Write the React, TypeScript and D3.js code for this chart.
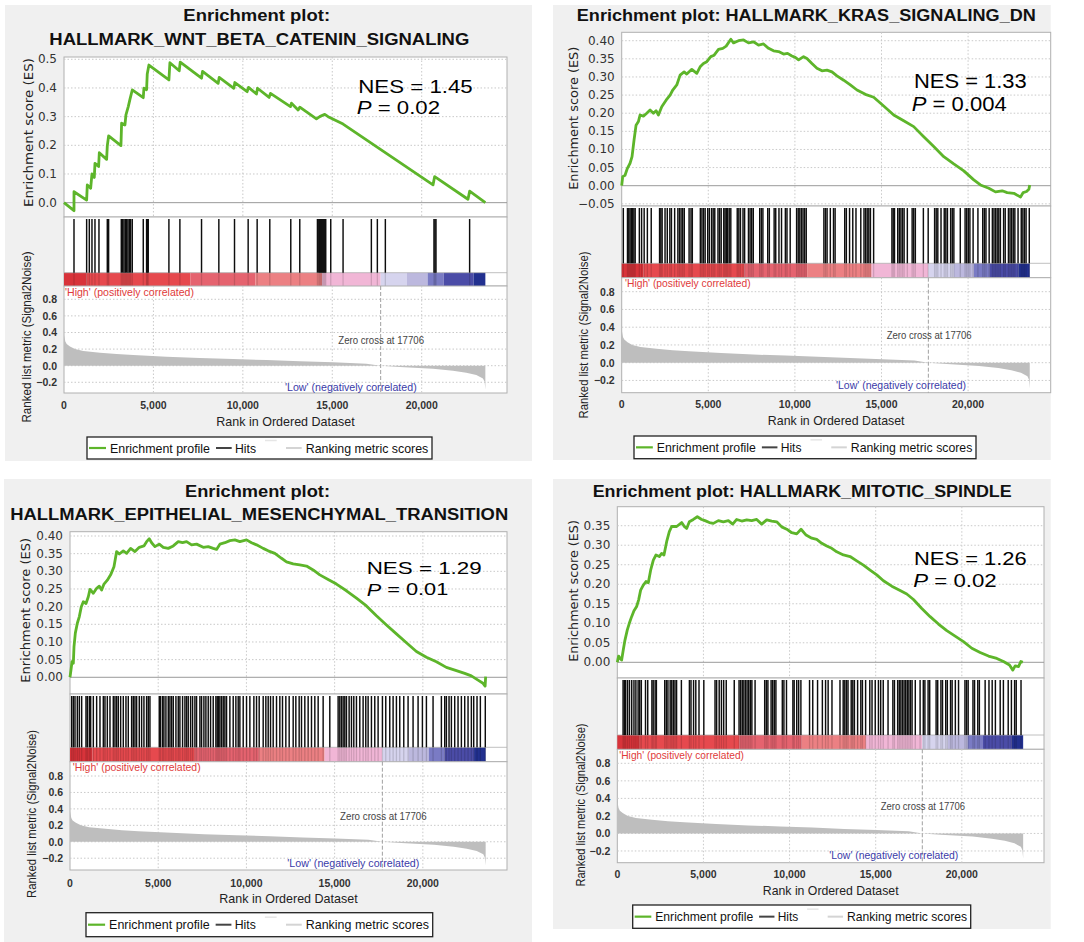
import React from 'react';
import * as d3 from 'd3';

type Pt = [number, number];

// ---------------- DATA ----------------
const RANK_MAX = 24770;
const N_GENES = 23560;
const ZERO_CROSS = 17706;
const xTicks = [0, 5000, 10000, 15000, 20000];
const rankTicks = [-0.2, 0, 0.2, 0.4, 0.6, 0.8];

const titleLines: string[][] = [
  ['Enrichment plot:', 'HALLMARK_WNT_BETA_CATENIN_SIGNALING'],
  ['Enrichment plot: HALLMARK_KRAS_SIGNALING_DN'],
  ['Enrichment plot:', 'HALLMARK_EPITHELIAL_MESENCHYMAL_TRANSITION'],
  ['Enrichment plot: HALLMARK_MITOTIC_SPINDLE'],
];
const nesValues = ['1.45', '1.33', '1.29', '1.26'];
const pValues = ['0.02', '0.004', '0.01', '0.02'];

const esTicksWnt = [0, 0.1, 0.2, 0.3, 0.4, 0.5];
const esTicksKras = [-0.05, 0, 0.05, 0.1, 0.15, 0.2, 0.25, 0.3, 0.35, 0.4];
const esTicksEmt = [0, 0.05, 0.1, 0.15, 0.2, 0.25, 0.3, 0.35, 0.4];
const esTicksMitotic = [0, 0.05, 0.1, 0.15, 0.2, 0.25, 0.3, 0.35];

const wntProfile: Pt[] = [
  [0, 0], [559, -0.028], [559, 0.038], [1266, 0.009], [1303, 0.062], [1490, 0.05], [1564, 0.1],
  [1694, 0.088], [1732, 0.137], [1937, 0.126], [1974, 0.174], [2383, 0.151], [2421, 0.198],
  [2495, 0.233], [3184, 0.199], [3221, 0.277], [3408, 0.271], [3463, 0.306], [3594, 0.335],
  [3687, 0.36], [3817, 0.393], [4432, 0.366], [4469, 0.399], [4618, 0.394], [4655, 0.449],
  [4748, 0.48], [5866, 0.428], [5921, 0.488], [6443, 0.46], [6499, 0.49], [7690, 0.434],
  [7746, 0.458], [8621, 0.416], [8677, 0.437], [9497, 0.399], [9553, 0.419], [10242, 0.387],
  [10316, 0.402], [10763, 0.379], [10819, 0.399], [11470, 0.367], [11545, 0.381], [12662, 0.335],
  [12718, 0.347], [13090, 0.323], [13184, 0.333], [14115, 0.292], [14301, 0.3], [14581, 0.308],
  [14767, 0.3], [15605, 0.274], [20633, 0.062], [20726, 0.091], [22588, 0.012], [22681, 0.04],
  [23560, 0.0],
];

const krasProfile: Pt[] = [
  [0, 0], [58, 0.025], [193, 0.029], [328, 0.048], [482, 0.062], [597, 0.08], [713, 0.126],
  [829, 0.167], [964, 0.177], [1060, 0.195], [1253, 0.192], [1445, 0.2], [1638, 0.209],
  [1831, 0.2], [1985, 0.207], [2120, 0.195], [2312, 0.218], [2563, 0.236], [2794, 0.25],
  [2948, 0.264], [3180, 0.278], [3372, 0.305], [3604, 0.314], [3758, 0.308], [4047, 0.321],
  [4336, 0.31], [4529, 0.328], [4721, 0.337], [4914, 0.342], [5145, 0.356], [5338, 0.36],
  [5588, 0.376], [5839, 0.379], [6032, 0.385], [6301, 0.404], [6455, 0.394], [6745, 0.4],
  [7034, 0.402], [7323, 0.394], [7612, 0.397], [7901, 0.388], [8190, 0.391], [8479, 0.379],
  [8768, 0.372], [9057, 0.37], [9346, 0.363], [9577, 0.365], [9827, 0.358], [10020, 0.354],
  [10213, 0.347], [10502, 0.356], [10695, 0.351], [10984, 0.337], [11273, 0.324], [11562, 0.317],
  [11851, 0.319], [12140, 0.314], [12429, 0.303], [12815, 0.291], [13200, 0.278], [13585, 0.264],
  [14067, 0.252], [14549, 0.244], [15127, 0.22], [15705, 0.195], [16283, 0.179], [16861, 0.163],
  [17439, 0.135], [18017, 0.108], [18595, 0.08], [19173, 0.06], [19752, 0.041], [20330, 0.016],
  [20715, 0.002], [21197, -0.007], [21582, -0.017], [21968, -0.014], [22257, -0.019],
  [22642, -0.021], [23028, -0.031], [23182, -0.019], [23375, -0.016], [23509, -0.01], [23560, 0.002],
];

const emtProfile: Pt[] = [
  [0, 0], [57, 0.021], [113, 0.044], [189, 0.04], [227, 0.087], [302, 0.125], [415, 0.153],
  [529, 0.172], [642, 0.2], [755, 0.214], [906, 0.209], [1038, 0.228], [1133, 0.249],
  [1322, 0.238], [1510, 0.252], [1661, 0.258], [1794, 0.247], [1926, 0.264], [2115, 0.275],
  [2303, 0.29], [2492, 0.313], [2643, 0.356], [2794, 0.349], [3021, 0.358], [3210, 0.351],
  [3436, 0.365], [3682, 0.356], [3927, 0.368], [4191, 0.372], [4342, 0.384], [4493, 0.392],
  [4626, 0.381], [4814, 0.37], [5060, 0.377], [5286, 0.368], [5570, 0.365], [5853, 0.372],
  [6136, 0.384], [6381, 0.381], [6608, 0.384], [6891, 0.375], [7174, 0.377], [7552, 0.368],
  [7835, 0.37], [8118, 0.365], [8307, 0.362], [8496, 0.377], [8779, 0.381], [9062, 0.387],
  [9345, 0.389], [9629, 0.384], [10006, 0.389], [10290, 0.381], [10573, 0.375], [10950, 0.365],
  [11234, 0.358], [11611, 0.351], [11989, 0.337], [12272, 0.327], [12650, 0.321], [13027, 0.318],
  [13405, 0.315], [13782, 0.304], [14160, 0.29], [14632, 0.277], [15104, 0.264], [15670, 0.245],
  [16237, 0.224], [16803, 0.202], [17370, 0.174], [17936, 0.148], [18502, 0.123], [19069, 0.098],
  [19635, 0.073], [20202, 0.057], [20768, 0.044], [21334, 0.028], [21901, 0.019], [22373, 0.011],
  [22750, 0.004], [23128, -0.008], [23411, -0.017], [23530, -0.025], [23560, 0.002],
];

const mitoticProfile: Pt[] = [
  [0, 0], [77, 0.016], [155, 0.01], [252, 0.006], [348, 0.032], [445, 0.057], [581, 0.083],
  [697, 0.1], [832, 0.117], [968, 0.132], [1123, 0.143], [1239, 0.16], [1355, 0.185],
  [1510, 0.198], [1665, 0.207], [1800, 0.204], [1936, 0.236], [2091, 0.262], [2246, 0.275],
  [2439, 0.271], [2575, 0.279], [2710, 0.275], [2865, 0.309], [3020, 0.335], [3156, 0.348],
  [3446, 0.348], [3737, 0.358], [3872, 0.349], [4027, 0.343], [4182, 0.36], [4414, 0.366],
  [4646, 0.373], [4898, 0.366], [5092, 0.363], [5343, 0.358], [5576, 0.356], [5866, 0.363],
  [6156, 0.36], [6447, 0.363], [6699, 0.354], [6931, 0.366], [7221, 0.362], [7512, 0.365],
  [7802, 0.363], [8092, 0.366], [8383, 0.354], [8673, 0.365], [8964, 0.362], [9254, 0.36],
  [9544, 0.347], [9835, 0.341], [10125, 0.332], [10416, 0.329], [10667, 0.341], [10958, 0.326],
  [11287, 0.318], [11577, 0.315], [11868, 0.305], [12158, 0.298], [12448, 0.292], [12739, 0.283],
  [13126, 0.275], [13513, 0.271], [13900, 0.26], [14288, 0.249], [14675, 0.236], [15062, 0.224],
  [15449, 0.209], [15933, 0.195], [16417, 0.184], [16804, 0.175], [17192, 0.161], [17676, 0.138],
  [18160, 0.117], [18643, 0.098], [19127, 0.081], [19611, 0.067], [20095, 0.053], [20579, 0.036],
  [21063, 0.025], [21547, 0.016], [22031, 0.01], [22418, 0.002], [22767, -0.007], [22960, -0.02],
  [23096, -0.009], [23290, -0.011], [23425, 0.002], [23541, 0.0],
];

const wntHits = [
  559, 1266, 1415, 1564, 1732, 1955, 2421, 2495, 3203, 3277, 3352, 3426, 3501, 3575, 3650, 3724,
  3817, 4432, 4618, 4655, 4711, 5866, 6480, 7690, 8658, 9534, 10297, 10800, 11507, 12680, 13183,
  14170, 14245, 14300, 14356, 14412, 14468, 14524, 14580, 14635, 14915, 15604, 17186, 17521,
  17968, 20687, 20743, 20799, 22680,
];

const krasHits = [
  93, 334, 408, 482, 556, 630, 704, 778, 1019, 1149, 1297, 1482, 1705, 2187, 2261, 2335, 2502,
  2631, 2780, 2872, 3057, 3243, 3335, 3428, 3521, 3613, 3891, 4002, 4077, 4540, 4633, 4725, 4818,
  4966, 5059, 5188, 5281, 5374, 5559, 5652, 5744, 5893, 5967, 6041, 6115, 6208, 6300, 6671, 6763,
  6856, 7004, 7097, 7319, 7412, 7505, 7597, 7968, 8061, 8153, 8431, 8524, 8802, 8894, 9080, 9228,
  9450, 9543, 9728, 10099, 10192, 10284, 10377, 10469, 10562, 10655, 11674, 11767, 11859, 12045,
  12230, 12322, 12878, 12971, 13156, 13342, 13527, 13805, 13990, 14083, 14175, 14268, 14361,
  14546, 15602, 15676, 15751, 15936, 16028, 16121, 16214, 16306, 16492, 16770, 16862, 16955,
  17418, 17696, 18067, 18159, 18252, 18437, 18623, 18715, 18808, 18993, 19086, 19179, 19549,
  19827, 19920, 20012, 20105, 20290, 20568, 20846, 20939, 21032, 21217, 21402, 21495, 21588,
  21680, 21773, 21865, 22051, 22144, 22329, 22422, 22514, 22607, 22700, 22885, 23070, 23163,
  23256, 23348, 23533,
];

const emtHits = [
  94, 189, 283, 415, 529, 661, 906, 982, 1095, 1171, 1322, 1510, 1699, 1888, 1982, 2115, 2266,
  2454, 2549, 2643, 2738, 2870, 3021, 3172, 3304, 3493, 3587, 3682, 3776, 3927, 4059, 4191, 4342,
  4437, 4531, 5060, 5135, 5249, 5324, 5437, 5570, 5664, 5758, 5853, 6004, 6136, 6230, 6381, 6514,
  6608, 6702, 6835, 6948, 7080, 7174, 7363, 7458, 7590, 7703, 7835, 7967, 8118, 8269, 8345, 8420,
  8496, 8590, 8685, 8779, 8874, 9062, 9251, 9402, 9534, 9629, 9818, 10006, 10195, 10422, 10573,
  10724, 10950, 11101, 11234, 11366, 11517, 11706, 11894, 12045, 12234, 12423, 12650, 12801,
  12989, 13122, 13310, 13499, 13688, 13877, 14066, 14349, 14726, 15198, 15293, 15387, 15482,
  15576, 15670, 15821, 15954, 16086, 16237, 16426, 16614, 16765, 16898, 17086, 17275, 17464,
  17709, 17898, 18125, 18314, 18502, 18691, 18918, 19163, 19446, 19730, 19975, 20202, 20579,
  21051, 21240, 21334, 21485, 21618, 21806, 21995, 22184, 22373, 22562, 22750, 22883, 23071,
  23260, 23540,
];

const mitoticHits = [
  335, 409, 484, 595, 707, 837, 967, 1079, 1209, 1302, 1395, 1637, 1767, 2009, 2083, 2195, 2269,
  2753, 2846, 2939, 3069, 3162, 3255, 3348, 3441, 3720, 4185, 4278, 4427, 4557, 4743, 5022, 5673,
  5766, 5915, 6045, 6175, 6324, 6789, 7068, 7161, 7254, 7347, 7440, 7533, 7626, 7719, 7812, 7998,
  8556, 8649, 8742, 8928, 9021, 9114, 9207, 9579, 9672, 9821, 10193, 10267, 10416, 10528, 10658,
  11160, 11346, 11625, 11904, 12090, 12239, 12462, 12927, 13113, 13206, 13299, 13392, 13578,
  13671, 13764, 13950, 14136, 14229, 14415, 14657, 14787, 14973, 15159, 15289, 15438, 15717,
  15996, 16089, 16275, 16368, 16461, 16554, 16647, 16740, 16833, 16926, 17019, 17112, 17298,
  17577, 17763, 17856, 18042, 18135, 18507, 18600, 18786, 18879, 19065, 19158, 19344, 19437,
  19623, 19809, 20181, 20274, 20367, 20646, 20739, 20925, 21018, 21353, 21576, 21762, 21948,
  22227, 22413, 22692, 22878, 23064, 23157, 23436,
];

const rankedMetric: Pt[] = [
  [0, 0.37], [74, 0.29], [149, 0.26], [335, 0.23], [614, 0.2], [1080, 0.177], [2011, 0.157],
  [2942, 0.14], [3873, 0.129], [5735, 0.109], [7597, 0.092], [9459, 0.08], [11321, 0.068],
  [13183, 0.052], [15045, 0.04], [16907, 0.024], [17706, 0.0], [18770, -0.016], [20633, -0.036],
  [21750, -0.06], [22495, -0.084], [23054, -0.113], [23426, -0.153], [23519, -0.193], [23560, -0.29],
];

const colorBandStarts = [0, 1266, 7076, 10707, 14431, 17706, 19179, 20333, 21227, 22903];
const colorBandColors = ['#d8333a', '#e6494e', '#e5636f', '#ec8083', '#f1b6d6', '#d6d4ee', '#bcb8de', '#7a7bc4', '#4b4ca7', '#22308f'];

const legendLabels = ['Enrichment profile', 'Hits', 'Ranking metric scores'];

// ---------------- LAYOUT ----------------
interface TextPos { x: number; y: number; w: number; }
interface Layout {
  bg: [number, number, number, number];
  x0: number; x1: number;
  esTop: number; esBottom: number; cbTop: number; cbBottom: number; rankBottom: number;
  esDomain: [number, number]; rankDomain: [number, number];
  esTicks: number[]; esFmt: string;
  titles: TextPos[]; titleFs: number;
  nes: TextPos; p: TextPos; nesFs: number;
  esLabel: TextPos; rankLabel: TextPos;
  tickY: number; axisTitle: TextPos;
  high: TextPos; low: TextPos; zero: TextPos;
  legend: [number, number, number, number];
}

const layouts: Layout[] = [
  {
    bg: [5, 5, 532, 461], x0: 64, x1: 507,
    esTop: 57, esBottom: 217, cbTop: 272.7, cbBottom: 286, rankBottom: 393,
    esDomain: [-0.05, 0.508], rankDomain: [-0.329, 0.96],
    esTicks: esTicksWnt, esFmt: '.1f',
    titles: [{ x: 256.7, y: 15.7, w: 146.7 }, { x: 259.3, y: 39.3, w: 420 }], titleFs: 16,
    nes: { x: 358.3, y: 86.5, w: 114.4 }, p: { x: 356.7, y: 107.5, w: 83.3 }, nesFs: 17.5,
    esLabel: { x: 28.3, y: 132.5, w: 149 }, rankLabel: { x: 26, y: 337, w: 171 },
    tickY: 405, axisTitle: { x: 285.5, y: 421.7, w: 138.3 },
    high: { x: 65, y: 291.7, w: 129 }, low: { x: 285, y: 386.7, w: 131.7 }, zero: { x: 338.3, y: 340, w: 85.7 },
    legend: [87, 437, 432, 459],
  },
  {
    bg: [553, 5, 1050.7, 460], x0: 621.7, x1: 1050.7,
    esTop: 32.3, esBottom: 206, cbTop: 263.3, cbBottom: 277.7, rankBottom: 392.7,
    esDomain: [-0.056, 0.4232], rankDomain: [-0.338, 0.9577],
    esTicks: esTicksKras, esFmt: '.2f',
    titles: [{ x: 806.3, y: 15, w: 459 }], titleFs: 16,
    nes: { x: 914, y: 80.5, w: 112.7 }, p: { x: 911.7, y: 104, w: 95 }, nesFs: 19.5,
    esLabel: { x: 573.3, y: 118.3, w: 143 }, rankLabel: { x: 583.3, y: 335, w: 167 },
    tickY: 404, axisTitle: { x: 836.2, y: 420, w: 136.7 },
    high: { x: 625, y: 283.3, w: 125.7 }, low: { x: 836, y: 385, w: 130 }, zero: { x: 886.7, y: 335, w: 85 },
    legend: [634, 436, 976, 458.7],
  },
  {
    bg: [4, 479, 532, 942], x0: 70, x1: 507,
    esTop: 531.7, esBottom: 694, cbTop: 747.3, cbBottom: 761.7, rankBottom: 870,
    esDomain: [-0.0473, 0.4122], rankDomain: [-0.3434, 0.9741],
    esTicks: esTicksEmt, esFmt: '.2f',
    titles: [{ x: 257.5, y: 491.7, w: 145 }, { x: 259.2, y: 514, w: 498 }], titleFs: 16,
    nes: { x: 366.7, y: 568.5, w: 115 }, p: { x: 366.7, y: 589.5, w: 81.6 }, nesFs: 17,
    esLabel: { x: 25, y: 610.3, w: 145 }, rankLabel: { x: 31.7, y: 814, w: 168 },
    tickY: 882.7, axisTitle: { x: 288.5, y: 898, w: 138.3 },
    high: { x: 72.7, y: 767.3, w: 128 }, low: { x: 287.3, y: 863.3, w: 132 }, zero: { x: 340, y: 816, w: 86.7 },
    legend: [86, 912.7, 432.7, 936.7],
  },
  {
    bg: [553, 479, 1050.7, 929], x0: 617.3, x1: 1044,
    esTop: 506.7, esBottom: 678, cbTop: 735, cbBottom: 749.3, rankBottom: 862.7,
    esDomain: [-0.0402, 0.3987], rankDomain: [-0.3337, 0.96],
    esTicks: esTicksMitotic, esFmt: '.2f',
    titles: [{ x: 802.2, y: 491.7, w: 419 }], titleFs: 16,
    nes: { x: 914, y: 559, w: 112.7 }, p: { x: 913.3, y: 580.5, w: 83.4 }, nesFs: 18,
    esLabel: { x: 573.3, y: 591, w: 141.7 }, rankLabel: { x: 580, y: 805, w: 163 },
    tickY: 874, axisTitle: { x: 830.7, y: 890, w: 135.7 },
    high: { x: 619.3, y: 755, w: 124.7 }, low: { x: 829.3, y: 855, w: 129 }, zero: { x: 880.7, y: 806.7, w: 84.3 },
    legend: [632.7, 905, 970.7, 928.3],
  },
];

const profiles = [wntProfile, krasProfile, emtProfile, mitoticProfile];
const hitSets = [wntHits, krasHits, emtHits, mitoticHits];

const SANS = "'Liberation Sans', Arial, sans-serif";
const DEJAVU = "'DejaVu Sans', Verdana, sans-serif";
const GREEN = '#5db52a';
const GRID = '#c9c9c9';
const BORDER = '#b0b0b0';

function Panel({ cfg, profile, hits, idx }: { cfg: Layout; profile: Pt[]; hits: number[]; idx: number }) {
  const x = d3.scaleLinear().domain([0, RANK_MAX]).range([cfg.x0, cfg.x1]);
  const yEs = d3.scaleLinear().domain(cfg.esDomain).range([cfg.esBottom, cfg.esTop]);
  const yRank = d3.scaleLinear().domain(cfg.rankDomain).range([cfg.rankBottom, cfg.cbBottom]);
  const esLine = d3.line<Pt>().x((d) => x(d[0])).y((d) => yEs(d[1]));
  const rankArea = d3.area<Pt>().x((d) => x(d[0])).y0(yRank(0)).y1((d) => yRank(d[1]));
  const fmtEs = d3.format(cfg.esFmt);
  const fmtRank = d3.format('.1f');
  const fmtX = d3.format(',');
  const [bx0, by0, bx1, by1] = cfg.bg;
  const [lx0, ly0, lx1, ly1] = cfg.legend;
  const lw = lx1 - lx0;
  const ls = lw / 345;
  const lyMid = (ly0 + ly1) / 2;
  const gridX = xTicks.filter((t) => t > 0);
  const w = cfg.x1 - cfg.x0;

  return (
    <g>
      <rect x={bx0} y={by0} width={bx1 - bx0} height={by1 - by0} fill="#f0f0f0" />
      {titleLines[idx].map((t, i) => (
        <text key={i} x={cfg.titles[i].x} y={cfg.titles[i].y} textAnchor="middle" dominantBaseline="central"
          fontFamily={SANS} fontWeight="bold" fontSize={cfg.titleFs} fill="#111"
          textLength={cfg.titles[i].w} lengthAdjust="spacingAndGlyphs">{t}</text>
      ))}

      {/* ES panel */}
      <rect x={cfg.x0} y={cfg.esTop} width={w} height={cfg.esBottom - cfg.esTop} fill="#fff" stroke={BORDER} strokeWidth={1} />
      {cfg.esTicks.filter((t) => Math.abs(t) > 1e-9).map((t) => (
        <line key={'eg' + t} x1={cfg.x0} x2={cfg.x1} y1={yEs(t)} y2={yEs(t)} stroke={GRID} strokeDasharray="1.5,2" />
      ))}
      {gridX.map((t) => (
        <line key={'exg' + t} x1={x(t)} x2={x(t)} y1={cfg.esTop} y2={cfg.esBottom} stroke={GRID} strokeDasharray="1.5,2" />
      ))}
      <line x1={cfg.x0} x2={cfg.x1} y1={yEs(0)} y2={yEs(0)} stroke="#9a9a9a" strokeWidth={1} />
      <path d={esLine(profile) || ''} fill="none" stroke={GREEN} strokeWidth={2.8} strokeLinejoin="round" />
      {cfg.esTicks.map((t) => (
        <text key={'et' + t} x={cfg.x0 - 7} y={yEs(t)} textAnchor="end" dominantBaseline="central"
          fontFamily={DEJAVU} fontSize={12} fill="#333">{fmtEs(t)}</text>
      ))}
      <text transform={`translate(${cfg.esLabel.x},${cfg.esLabel.y}) rotate(-90)`} textAnchor="middle" dominantBaseline="central"
        fontFamily={DEJAVU} fontSize={13} fill="#222" textLength={cfg.esLabel.w} lengthAdjust="spacingAndGlyphs">Enrichment score (ES)</text>

      {/* NES / P */}
      <text x={cfg.nes.x} y={cfg.nes.y} dominantBaseline="central" fontFamily={SANS} fontSize={cfg.nesFs} fill="#000"
        textLength={cfg.nes.w} lengthAdjust="spacingAndGlyphs">{`NES = ${nesValues[idx]}`}</text>
      <text x={cfg.p.x} y={cfg.p.y} dominantBaseline="central" fontFamily={SANS} fontSize={cfg.nesFs} fill="#000"
        textLength={cfg.p.w} lengthAdjust="spacingAndGlyphs"><tspan fontStyle="italic">P</tspan>{` = ${pValues[idx]}`}</text>

      {/* Hits panel */}
      <rect x={cfg.x0} y={cfg.esBottom} width={w} height={cfg.cbBottom - cfg.esBottom} fill="#fff" stroke={BORDER} strokeWidth={1} />
      {colorBandStarts.map((s, i) => {
        const e = i + 1 < colorBandStarts.length ? colorBandStarts[i + 1] : N_GENES;
        return <rect key={'cb' + i} x={x(s)} y={cfg.cbTop} width={x(e) - x(s)} height={cfg.cbBottom - cfg.cbTop} fill={colorBandColors[i]} />;
      })}
      <line x1={cfg.x0} x2={cfg.x1} y1={cfg.cbTop} y2={cfg.cbTop} stroke={BORDER} strokeWidth={0.8} />
      {hits.map((h, i) => (
        <line key={'h' + i} x1={x(h)} x2={x(h)} y1={cfg.esBottom + 2} y2={cfg.cbTop} stroke="#0d0d0d" strokeWidth={1.45} />
      ))}
      {hits.map((h, i) => (
        <line key={'hc' + i} x1={x(h)} x2={x(h)} y1={cfg.cbTop} y2={cfg.cbBottom} stroke="#000" strokeOpacity={0.14} strokeWidth={1.3} />
      ))}

      {/* Ranked metric panel */}
      <rect x={cfg.x0} y={cfg.cbBottom} width={w} height={cfg.rankBottom - cfg.cbBottom} fill="#fff" stroke={BORDER} strokeWidth={1} />
      {rankTicks.map((t) => (
        <line key={'rg' + t} x1={cfg.x0} x2={cfg.x1} y1={yRank(t)} y2={yRank(t)} stroke={GRID} strokeDasharray="1.5,2" />
      ))}
      {gridX.map((t) => (
        <line key={'rxg' + t} x1={x(t)} x2={x(t)} y1={cfg.cbBottom} y2={cfg.rankBottom} stroke={GRID} strokeDasharray="1.5,2" />
      ))}
      <path d={rankArea(rankedMetric) || ''} fill="#bebebe" stroke="none" />
      <line x1={x(ZERO_CROSS)} x2={x(ZERO_CROSS)} y1={cfg.cbBottom} y2={cfg.rankBottom} stroke="#a0a0a0" strokeDasharray="4,2" strokeWidth={1} />
      {rankTicks.map((t) => (
        <text key={'rt' + t} x={cfg.x0 - 7} y={yRank(t)} textAnchor="end" dominantBaseline="central"
          fontFamily={SANS} fontWeight="bold" fontSize={10.5} fill="#333">{fmtRank(t)}</text>
      ))}
      <text x={cfg.high.x} y={cfg.high.y} dominantBaseline="central" fontFamily={SANS} fontSize={10.5} fill="#e03a3a"
        textLength={cfg.high.w} lengthAdjust="spacingAndGlyphs">'High' (positively correlated)</text>
      <text x={cfg.low.x} y={cfg.low.y} dominantBaseline="central" fontFamily={SANS} fontSize={10.5} fill="#3a3aa8"
        textLength={cfg.low.w} lengthAdjust="spacingAndGlyphs">'Low' (negatively correlated)</text>
      <text x={cfg.zero.x} y={cfg.zero.y} dominantBaseline="central" fontFamily={SANS} fontSize={10} fill="#444"
        textLength={cfg.zero.w} lengthAdjust="spacingAndGlyphs">{`Zero cross at ${ZERO_CROSS}`}</text>
      <text transform={`translate(${cfg.rankLabel.x},${cfg.rankLabel.y}) rotate(-90)`} textAnchor="middle" dominantBaseline="central"
        fontFamily={SANS} fontSize={13} fill="#222" textLength={cfg.rankLabel.w} lengthAdjust="spacingAndGlyphs">Ranked list metric (Signal2Noise)</text>

      {/* X axis */}
      {xTicks.map((t) => (
        <text key={'xt' + t} x={x(t)} y={cfg.tickY} textAnchor="middle" dominantBaseline="central"
          fontFamily={SANS} fontWeight="bold" fontSize={10.5} fill="#333">{fmtX(t)}</text>
      ))}
      <text x={cfg.axisTitle.x} y={cfg.axisTitle.y} textAnchor="middle" dominantBaseline="central"
        fontFamily={SANS} fontSize={13.5} fill="#222" textLength={cfg.axisTitle.w} lengthAdjust="spacingAndGlyphs">Rank in Ordered Dataset</text>

      {/* Legend */}
      <rect x={lx0} y={ly0} width={lw} height={ly1 - ly0} fill="#fff" stroke="#222" strokeWidth={1.3} />
      <line x1={lx0 + 2 * ls} x2={lx0 + 19 * ls} y1={lyMid} y2={lyMid} stroke={GREEN} strokeWidth={2.2} />
      <text x={lx0 + 23 * ls} y={lyMid} dominantBaseline="central" fontFamily={SANS} fontSize={13.5} fill="#111"
        textLength={100 * ls} lengthAdjust="spacingAndGlyphs">{legendLabels[0]}</text>
      <line x1={lx0 + 129 * ls} x2={lx0 + 144.7 * ls} y1={lyMid} y2={lyMid} stroke="#444" strokeWidth={2} />
      <text x={lx0 + 148 * ls} y={lyMid} dominantBaseline="central" fontFamily={SANS} fontSize={13.5} fill="#111"
        textLength={21 * ls} lengthAdjust="spacingAndGlyphs">{legendLabels[1]}</text>
      <line x1={lx0 + 178 * ls} x2={lx0 + 189.7 * ls} y1={lyMid - 7.5} y2={lyMid - 7.5} stroke="#e6e6e6" strokeWidth={1.5} />
      <line x1={lx0 + 199 * ls} x2={lx0 + 214.7 * ls} y1={lyMid} y2={lyMid} stroke="#d4d4d4" strokeWidth={2} />
      <text x={lx0 + 218.7 * ls} y={lyMid} dominantBaseline="central" fontFamily={SANS} fontSize={13.5} fill="#111"
        textLength={122.6 * ls} lengthAdjust="spacingAndGlyphs">{legendLabels[2]}</text>
    </g>
  );
}

export default function App() {
  return (
    <div style={{ position: 'absolute', left: 0, top: 0, width: 1084, height: 942, background: '#fff' }}>
      <svg width={1084} height={942} viewBox="0 0 1084 942" style={{ display: 'block' }}>
        <rect x={0} y={0} width={1084} height={942} fill="#fff" />
        {layouts.map((cfg, i) => (
          <Panel key={i} cfg={cfg} profile={profiles[i]} hits={hitSets[i]} idx={i} />
        ))}
      </svg>
    </div>
  );
}
